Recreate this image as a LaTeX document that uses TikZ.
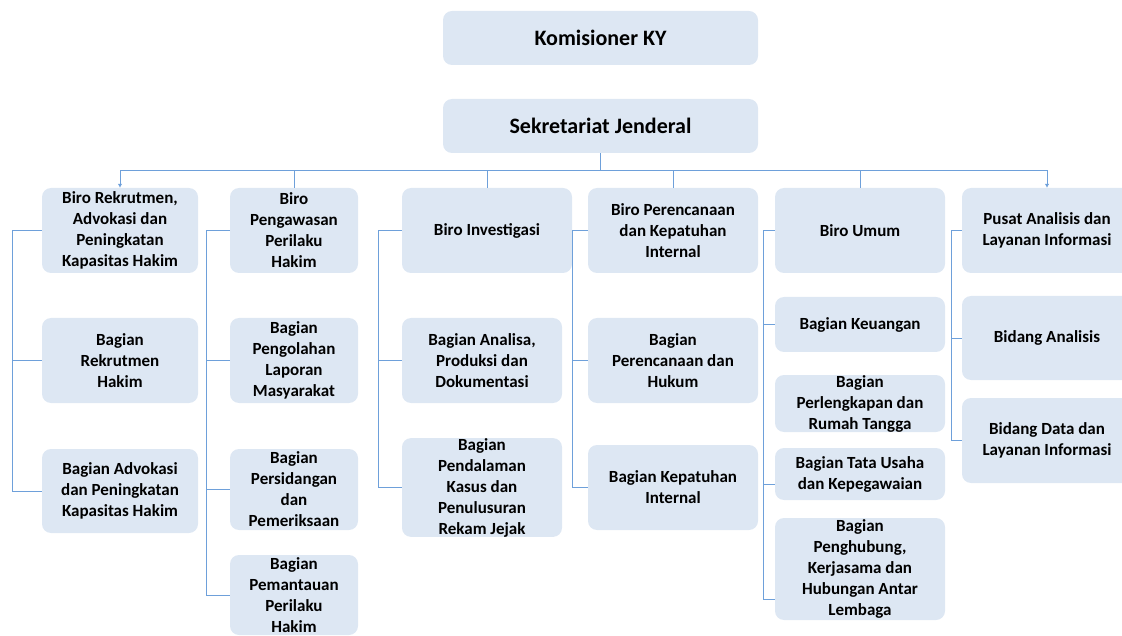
\documentclass[tikz,border=0pt]{standalone}
\usepackage{fontspec}
\setmainfont{Carlito}
\usetikzlibrary{arrows.meta}
\definecolor{boxblue}{RGB}{221,231,243}
\definecolor{lineblue}{RGB}{110,160,218}

\begin{document}
\begin{tikzpicture}[x=1pt, y=-1pt,
    unit/.style={fill=boxblue, rounded corners=9pt, inner sep=0pt, align=center,
        minimum width=#1, font=\fontsize{17}{21}\selectfont\bfseries},
    unit/.default=170pt,
    head/.style={unit=315pt, minimum height=54pt, font=\fontsize{22}{24}\selectfont\bfseries},
    link/.style={draw=lineblue, line width=0.8pt},
    tip/.style={-{Latex[length=4pt,width=4.5pt]}}]
    \clip (0,0) rectangle (1122,636);

    % Pimpinan
    \node[head] (ky) at (600.5,38) {Komisioner KY};
    \node[head] (sj) at (600.5,126) {Sekretariat Jenderal};

    % Biro Rekrutmen
    \node[unit=156pt, minimum height=85pt] (rek) at (120,230.5) {Biro Rekrutmen,\\Advokasi dan\\Peningkatan\\Kapasitas Hakim};
    \node[unit=156pt, minimum height=85pt] (rekA) at (120,360.5) {Bagian\\Rekrutmen\\Hakim};
    \node[unit=156pt, minimum height=84pt] (rekB) at (120,491) {Bagian Advokasi\\dan Peningkatan\\Kapasitas Hakim};

    % Biro Pengawasan
    \node[unit=128pt, minimum height=85pt] (was) at (294,230.5) {Biro\\Pengawasan\\Perilaku\\Hakim};
    \node[unit=128pt, minimum height=85pt] (wasA) at (294,360.5) {Bagian\\Pengolahan\\Laporan\\Masyarakat};
    \node[unit=128pt, minimum height=81pt] (wasB) at (294,489.5) {Bagian\\Persidangan\\dan\\Pemeriksaan};
    \node[unit=128pt, minimum height=80pt] (wasC) at (294,595) {Bagian\\Pemantauan\\Perilaku\\Hakim};

    % Biro Investigasi
    \node[unit, minimum height=85pt] (inv) at (487,230.5) {Biro Investigasi};
    \node[unit=160pt, minimum height=85pt] (invA) at (482,360.5) {Bagian Analisa,\\Produksi dan\\Dokumentasi};
    \node[unit=160pt, minimum height=85pt] (invB) at (482,487.5) {Bagian\\Pendalaman\\Kasus dan\\Penulusuran\\Rekam Jejak};

    % Biro Perencanaan
    \node[unit, minimum height=85pt] (ren) at (673,230.5) {Biro Perencanaan\\dan Kepatuhan\\Internal};
    \node[unit, minimum height=85pt] (renA) at (673,360.5) {Bagian\\Perencanaan dan\\Hukum};
    \node[unit, minimum height=85pt] (renB) at (673,487.5) {Bagian Kepatuhan\\Internal};

    % Biro Umum
    \node[unit, minimum height=85pt] (umum) at (860,230.5) {Biro Umum};
    \node[unit, minimum height=55pt] (umA) at (860,324.5) {Bagian Keuangan};
    \node[unit, minimum height=57pt] (umB) at (860,403.5) {Bagian\\Perlengkapan dan\\Rumah Tangga};
    \node[unit, minimum height=52pt] (umC) at (860,474) {Bagian Tata Usaha\\dan Kepegawaian};
    \node[unit, minimum height=102pt] (umD) at (860,569) {Bagian\\Penghubung,\\Kerjasama dan\\Hubungan Antar\\Lembaga};

    % Pusat Analisis
    \node[unit, minimum height=85pt] (pusat) at (1047,230.5) {Pusat Analisis dan\\Layanan Informasi};
    \node[unit, minimum height=84pt] (pusA) at (1047,338) {Bidang Analisis};
    \node[unit, minimum height=85pt] (pusB) at (1047,440.5) {Bidang Data dan\\Layanan Informasi};

    % Garis ke biro
    \draw[link] (sj.south) -- (sj.south |- 0,170) coordinate (bus);
    \draw[link, tip] (bus) -| (rek.north);
    \draw[link, tip] (bus) -| (pusat.north);
    \foreach \n in {was, inv, ren, umum}
        \draw[link] (\n.north) -- (\n.north |- bus);

    % Garis ke bagian
    \draw[link] (rek.west) -- ++(-29,0) |- (rekB.west);
    \draw[link] (was.west) -- ++(-23,0) |- (wasC.west);
    \draw[link] (inv.west) -- ++(-23,0) |- (invB.west);
    \draw[link] (ren.west) -- ++(-15,0) |- (renB.west);
    \draw[link] (umum.west) -- ++(-11,0) |- ([yshift=-30pt]umD.west);
    \draw[link] (pusat.west) -- ++(-10,0) |- (pusB.west);
    \foreach \n/\d in {rekA/29, wasA/23, wasB/23, invA/23, renA/15, umA/11, pusA/10}
        \draw[link] (\n.west) -- ++(-\d,0);
    \draw[link] ([yshift=-10pt]umC.west) -- ++(-11,0);
\end{tikzpicture}
\end{document}
